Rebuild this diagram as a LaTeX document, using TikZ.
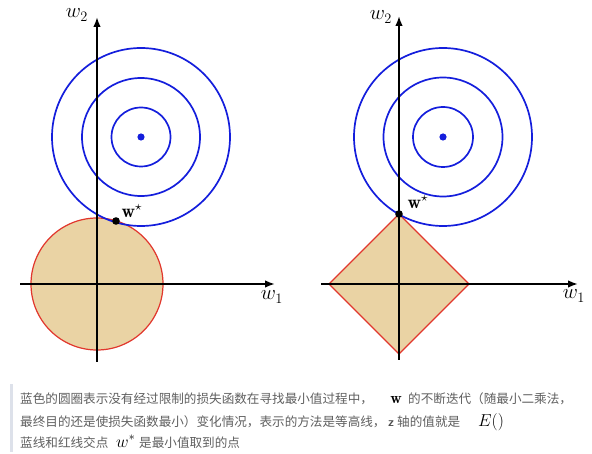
\documentclass[tikz,border=0pt]{standalone}
\usepackage{graphicx}
\usepackage{fontspec}
\usepackage{amsmath}
\newfontfamily\cjk{Noto Sans CJK SC}
\usetikzlibrary{arrows.meta}
\definecolor{contourblue}{RGB}{20,30,220}
\definecolor{regred}{RGB}{225,55,45}
\definecolor{regfill}{RGB}{234,211,164}
\definecolor{textgray}{RGB}{95,95,95}
\definecolor{bargray}{RGB}{221,225,234}
\newcommand{\axtext}[1]{\scalebox{1.2}{\fontsize{17.28}{18}\selectfont$#1$}}
\newcommand{\startext}[1]{\scalebox{1.3}{\fontsize{14.4}{15}\selectfont$#1$}}
\tikzset{
  axis/.style={line width=1.6pt,-{Latex[length=10pt,width=7.5pt]}},
  contour/.style={draw=contourblue,line width=1.7pt},
  region/.style={draw=regred,fill=regfill,line width=1.2pt},
  axlabel/.style={inner sep=0pt},
  starlabel/.style={inner sep=0pt},
  cjktext/.style={inner sep=0pt,anchor=base west,text=textgray,font=\cjk\fontsize{12.6}{14}\selectfont},
  mathtext/.style={inner sep=0pt,font=\fontsize{17.28}{18}\selectfont}
}
\begin{document}
\begin{tikzpicture}[x=1pt,y=-1pt]
\useasboundingbox (0,0) rectangle (592,454);
% ---------- left panel ----------
\coordinate (L) at (97,284);
\coordinate (Lc) at (141,137);
\coordinate (Lxs) at (20,284);
\coordinate (Lxe) at (275,284);
\coordinate (Lys) at (97,362);
\coordinate (Lye) at (97,17);
\coordinate (Lw) at (116,221);
\fill[region] (L) circle[radius=66pt];
\foreach \r in {29.5,59,89} \draw[contour] (Lc) circle[radius=\r pt];
\fill[contourblue] (Lc) circle[radius=3.6pt];
\draw[axis] (Lxs) -- (Lxe);
\draw[axis] (Lys) -- (Lye);
\fill[black] (Lw) circle[radius=3.8pt];
\node[axlabel] (Lw2) at (77,15) {\axtext{w_2}};
\node[axlabel] (Lw1) at (272,297) {\axtext{w_1}};
\node[starlabel] (Lws) at (132,211) {\startext{\mathbf{w}^{\star}}};
% ---------- right panel ----------
\coordinate (R) at (399,284);
\coordinate (Rc) at (443,137);
\coordinate (Rxs) at (321,284);
\coordinate (Rxe) at (578,284);
\coordinate (Rys) at (399,360);
\coordinate (Rye) at (399,16);
\coordinate (Rl) at (329,284);
\coordinate (Rt) at (399,214);
\coordinate (Rr) at (469,284);
\coordinate (Rb) at (399,354);
\fill[region] (Rl) -- (Rt) -- (Rr) -- (Rb) -- cycle;
\foreach \r in {30,59.5,89} \draw[contour] (Rc) circle[radius=\r pt];
\fill[contourblue] (Rc) circle[radius=3.6pt];
\draw[axis] (Rxs) -- (Rxe);
\draw[axis] (Rys) -- (Rye);
\fill[black] (Rt) circle[radius=3.8pt];
\node[axlabel] (Rw2) at (381,17) {\axtext{w_2}};
\node[axlabel] (Rw1) at (574,296) {\axtext{w_1}};
\node[starlabel] (Rws) at (418,202) {\startext{\mathbf{w}^{\star}}};
% ---------- caption ----------
\fill[bargray] (10,384) rectangle (13,452);
\node[cjktext] (l1a) at (20,403) {蓝色的圆圈表示没有经过限制的损失函数在寻找最小值过程中，};
\node[starlabel,anchor=base] (l1w) at (396,403) {\scalebox{1.1}{\fontsize{14.4}{15}\selectfont$\mathbf{w}$}};
\node[cjktext] (l1b) at (408,403) {的不断迭代（随最小二乘法，};
\node[cjktext] (l2a) at (20,426) {最终目的还是使损失函数最小）变化情况，表示的方法是等高线，};
\node[inner sep=0pt,anchor=base west,text=black!70,font=\sffamily\bfseries\fontsize{12.6}{14}\selectfont] (l2z) at (388,426) {z};
\node[cjktext] (l2b) at (397,426) {轴的值就是};
\node[mathtext,anchor=base west] (l2e) at (478,426) {$E()$};
\node[cjktext] (l3a) at (20,447) {蓝线和红线交点};
\node[mathtext,anchor=base west] (l3w) at (116,447) {$w^{*}$};
\node[cjktext] (l3b) at (139,447) {是最小值取到的点};
\end{tikzpicture}
\end{document}
